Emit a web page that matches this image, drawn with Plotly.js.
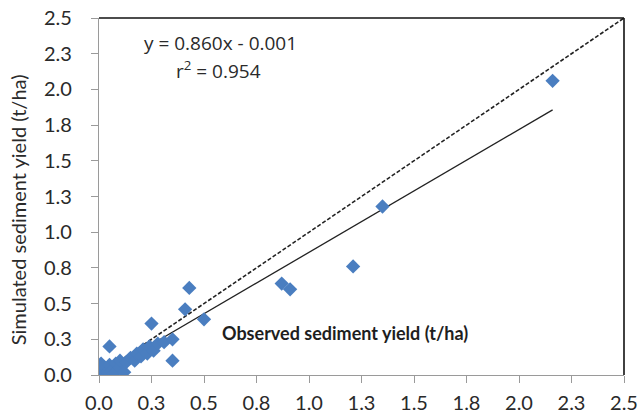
<!DOCTYPE html>
<html>
<head>
<meta charset="utf-8">
<script src="https://cdn.plot.ly/plotly-3.0.1.min.js"></script>
<style>
  html, body { margin: 0; padding: 0; background: #fff; }
  #chart { width: 641px; height: 419px; }
</style>
</head>
<body>
<div id="chart"></div>
<script>
// Observed vs simulated sediment yield (t/ha)
const observed = [0.00, 0.01, 0.02, 0.00, 0.03, 0.01, 0.04, 0.05, 0.06, 0.08, 0.07, 0.10, 0.12, 0.10,
                  0.13, 0.15, 0.17, 0.18, 0.20, 0.21, 0.23, 0.24, 0.26, 0.28, 0.31, 0.35, 0.35, 0.05,
                  0.25, 0.41, 0.43, 0.50, 0.87, 0.91, 1.21, 1.35, 2.16];
const simulated = [0.00, 0.02, 0.01, 0.04, 0.05, 0.08, 0.02, 0.07, 0.03, 0.08, 0.01, 0.05, 0.02, 0.10,
                   0.09, 0.12, 0.10, 0.15, 0.13, 0.18, 0.15, 0.20, 0.17, 0.22, 0.23, 0.25, 0.10, 0.20,
                   0.36, 0.46, 0.61, 0.39, 0.64, 0.60, 0.76, 1.18, 2.06];

// Linear fit as stated in the equation label
const slope = 0.860;
const intercept = -0.001;
const rSquared = 0.954;

// Axis ticks every 0.25, labelled to one decimal
const tickValues = [0, 0.25, 0.5, 0.75, 1.0, 1.25, 1.5, 1.75, 2.0, 2.25, 2.5];
const tickLabels = ['0.0', '0.3', '0.5', '0.8', '1.0', '1.3', '1.5', '1.8', '2.0', '2.3', '2.5'];

const axisMax = 2.5;
const xMin = Math.min(...observed);
const xMax = Math.max(...observed);
const fitX = [xMin, xMax];
const fitY = fitX.map(x => slope * x + intercept);

const font = 'Lato, "Open Sans", sans-serif';
const textColor = '#2a2a2a';

const traces = [
  {
    x: [0, axisMax], y: [0, axisMax],
    mode: 'lines', type: 'scatter',
    line: { color: '#222', width: 1.6, dash: '4px,2px' },
    hoverinfo: 'skip', showlegend: false
  },
  {
    x: fitX, y: fitY,
    mode: 'lines', type: 'scatter',
    line: { color: '#222', width: 1.3 },
    hoverinfo: 'skip', showlegend: false
  },
  {
    x: observed, y: simulated,
    mode: 'markers', type: 'scatter',
    marker: { symbol: 'diamond', size: 11, color: '#4A7EC0' },
    showlegend: false
  }
];

const axisCommon = {
  range: [0, axisMax],
  tickmode: 'array',
  tickvals: tickValues,
  ticktext: tickLabels,
  showgrid: false,
  zeroline: false,
  showline: true,
  linecolor: '#9a9a9a',
  linewidth: 1.2,
  ticks: 'outside',
  ticklen: 7,
  tickcolor: '#9a9a9a',
  tickfont: { family: font, size: 20, color: textColor }
};

const layout = {
  width: 641,
  height: 419,
  margin: { l: 99, r: 17, t: 18, b: 44 },
  paper_bgcolor: '#fff',
  plot_bgcolor: '#fff',
  xaxis: Object.assign({}, axisCommon, { ticklabelstandoff: 3 }),
  yaxis: Object.assign({}, axisCommon, { ticklabelstandoff: 15 }),
  shapes: [
    { type: 'line', xref: 'paper', yref: 'paper', x0: 0, x1: 1, y0: 1, y1: 1, line: { color: '#111', width: 1.6 } },
    { type: 'line', xref: 'paper', yref: 'paper', x0: 1, x1: 1, y0: 0, y1: 1, line: { color: '#111', width: 1.6 } }
  ],
  annotations: [
    {
      xref: 'paper', yref: 'paper', x: 0.232, y: 0.929, xanchor: 'center', yanchor: 'middle',
      text: 'y = ' + slope.toFixed(3) + 'x - ' + Math.abs(intercept).toFixed(3),
      showarrow: false, font: { family: '"Open Sans", sans-serif', size: 19, color: textColor }
    },
    {
      xref: 'paper', yref: 'paper', x: 0.228, y: 0.853, xanchor: 'center', yanchor: 'middle',
      text: 'r<sup>2</sup> = ' + rSquared.toFixed(3),
      showarrow: false, font: { family: '"Open Sans", sans-serif', size: 19, color: textColor }
    },
    {
      xref: 'paper', yref: 'paper', x: 0.468, y: 0.118, xanchor: 'center', yanchor: 'middle',
      text: '<b>Observed sediment yield (t/ha)</b>',
      showarrow: false, font: { family: font, size: 18, color: '#1e1e1e' }
    },
    {
      xref: 'paper', yref: 'paper', x: -0.154, y: 0.462, xanchor: 'center', yanchor: 'middle',
      textangle: -90,
      text: 'Simulated sediment yield (t/ha)',
      showarrow: false, font: { family: font, size: 20, color: textColor }
    }
  ]
};

Plotly.newPlot('chart', traces, layout, { displayModeBar: false, staticPlot: true });
</script>
</body>
</html>
